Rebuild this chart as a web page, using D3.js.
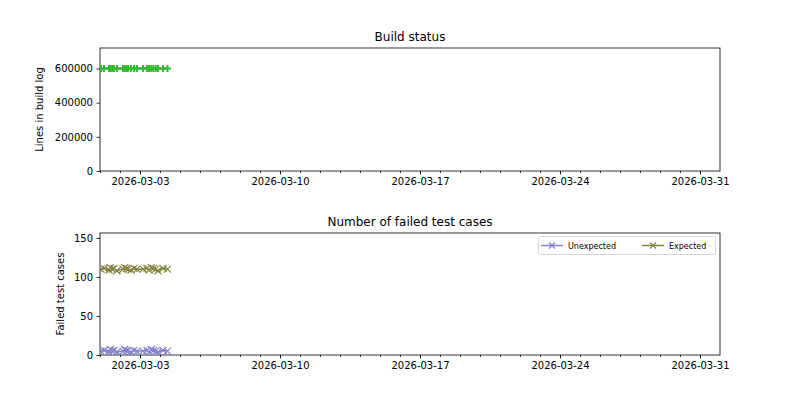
<!DOCTYPE html>
<html><head><meta charset="utf-8">
<script src="https://cdn.jsdelivr.net/npm/d3@7"></script>
<style>
body{margin:0;background:#fff;}
text{font-family:"DejaVu Sans",sans-serif;fill:#000;}
</style></head>
<body><svg id="c" width="800" height="400"></svg>
<script>
const times = ["2026-03-01T01:10","2026-03-01T04:50","2026-03-01T10:50","2026-03-01T12:30","2026-03-01T14:40","2026-03-01T16:50","2026-03-01T20:20","2026-03-02T03:40","2026-03-02T05:30","2026-03-02T07:40","2026-03-02T09:40","2026-03-02T13:10","2026-03-02T16:50","2026-03-02T20:20","2026-03-03T03:40","2026-03-03T08:20","2026-03-03T10:50","2026-03-03T13:30","2026-03-03T16:00","2026-03-03T18:50","2026-03-03T21:40","2026-03-04T03:40","2026-03-04T09:00"];
const buildLines = [600000,600000,600000,600000,600000,600000,600000,600000,600000,600000,600000,600000,600000,600000,600000,600000,600000,600000,600000,600000,600000,600000,600000];
const unexpected = [5,6,4,7,5,6,4,5,7,6,5,4,6,5,5,6,4,7,6,5,4,6,5];
const expected = [110,111,109,112,110,111,108,110,112,111,110,109,111,110,110,111,109,112,111,110,108,111,110];
const xDomain = ["2026-03-01","2026-04-01"];
const majorTicks = ["2026-03-03","2026-03-10","2026-03-17","2026-03-24","2026-03-31"];
const topYTicks = [0,200000,400000,600000];
const botYTicks = [0,50,100,150];
const topTitle = "Build status", botTitle = "Number of failed test cases";
const topYLabel = "Lines in build log", botYLabel = "Failed test cases";
const legendNames = ["Unexpected","Expected"];

const P = s => new Date(s + (s.length===10 ? "T00:00:00Z" : ":00Z"));
const svg = d3.select("#c");
const L=100,R=720;
const x = d3.scaleUtc().domain(xDomain.map(P)).range([L,R]);
const fmt = d3.utcFormat("%Y-%m-%d");

function panel(top,bottom,yMax,yTicks,title,ylabel,ylx){
  const y = d3.scaleLinear().domain([0,yMax]).range([bottom,top]);
  const g = svg.append("g");
  const xa = g.append("g").attr("transform",`translate(0,${bottom})`)
    .call(d3.axisBottom(x).tickValues(majorTicks.map(P)).tickFormat(fmt).tickSize(3.5).tickPadding(3.5));
  const minor = d3.utcDay.range(x.domain()[0], x.domain()[1]);
  g.append("g").attr("transform",`translate(0,${bottom})`)
    .call(d3.axisBottom(x).tickValues(minor).tickFormat("").tickSize(2)).select(".domain").remove();
  const ya = g.append("g").attr("transform",`translate(${L},0)`)
    .call(d3.axisLeft(y).tickValues(yTicks).tickFormat(d3.format("d")).tickSize(3.5).tickPadding(3.5));
  [xa,ya].forEach(a=>{a.selectAll("text").attr("font-size",10).attr("font-family","DejaVu Sans");a.select(".domain").remove();a.selectAll("line").attr("stroke","#000").attr("stroke-width",0.8);});
  g.selectAll(".tick line").attr("stroke-width",0.8);
  g.append("rect").attr("x",L).attr("y",top).attr("width",R-L).attr("height",bottom-top)
    .attr("fill","none").attr("stroke","#000").attr("stroke-width",0.8);
  g.append("text").attr("x",(L+R)/2).attr("y",top-7).attr("text-anchor","middle").attr("font-size",12).text(title);
  g.append("text").attr("transform",`translate(${ylx},${(top+bottom)/2}) rotate(-90)`).attr("text-anchor","middle").attr("font-size",10).text(ylabel);
  return {g,y};
}

const t = panel(48,171,720000,topYTicks,topTitle,topYLabel,43);
const tp = times.map(P);
svg.append("clipPath").attr("id","ct").append("rect").attr("x",L).attr("y",48).attr("width",R-L).attr("height",123);
t.g.append("path").datum(buildLines).attr("clip-path","url(#ct)")
  .attr("d",d3.line().x((d,i)=>x(tp[i])).y(d=>t.y(d)))
  .attr("fill","none").attr("stroke","#7f7f7f").attr("stroke-width",2);
t.g.selectAll(".mk").data(buildLines).join("path").attr("clip-path","url(#ct)")
  .attr("d",(d,i)=>{const cx=x(tp[i]),cy=t.y(d);return `M${cx-3.5},${cy}H${cx+3.5}M${cx},${cy-3.5}V${cy+3.5}`;})
  .attr("stroke","#33bb33").attr("stroke-width",2);

const b = panel(233,355,156.4,botYTicks,botTitle,botYLabel,64);
svg.append("clipPath").attr("id","cb").append("rect").attr("x",L).attr("y",233).attr("width",R-L).attr("height",122);
const series = [{v:unexpected,c:"#8080cc"},{v:expected,c:"#848440"}];
const xm = (cx,cy,s)=>`M${cx-s},${cy-s}L${cx+s},${cy+s}M${cx-s},${cy+s}L${cx+s},${cy-s}`;
series.forEach(s=>{
  b.g.append("path").datum(s.v).attr("clip-path","url(#cb)")
    .attr("d",d3.line().x((d,i)=>x(tp[i])).y(d=>b.y(d)))
    .attr("fill","none").attr("stroke",s.c).attr("stroke-width",1.5);
  b.g.append("path").attr("clip-path","url(#cb)")
    .attr("d",s.v.map((d,i)=>xm(x(tp[i]),b.y(d),3.5)).join(""))
    .attr("fill","none").attr("stroke",s.c).attr("stroke-width",1.2);
});
// legend
const lg = svg.append("g");
lg.append("rect").attr("x",538.5).attr("y",236.5).attr("width",177).attr("height",18).attr("rx",2)
  .attr("fill","#fff").attr("fill-opacity",0.8).attr("stroke","#ccc").attr("stroke-width",0.8);
const lx=[541,642];
series.forEach((s,i)=>{
  lg.append("line").attr("x1",lx[i]).attr("x2",lx[i]+22).attr("y1",245.5).attr("y2",245.5).attr("stroke",s.c).attr("stroke-width",1.5);
  lg.append("path").attr("d",xm(lx[i]+11,245.5,3)).attr("stroke",s.c).attr("stroke-width",1.2);
  lg.append("text").attr("x",lx[i]+27).attr("y",248.5).attr("font-size",8).text(legendNames[i]);
});
</script></body></html>
